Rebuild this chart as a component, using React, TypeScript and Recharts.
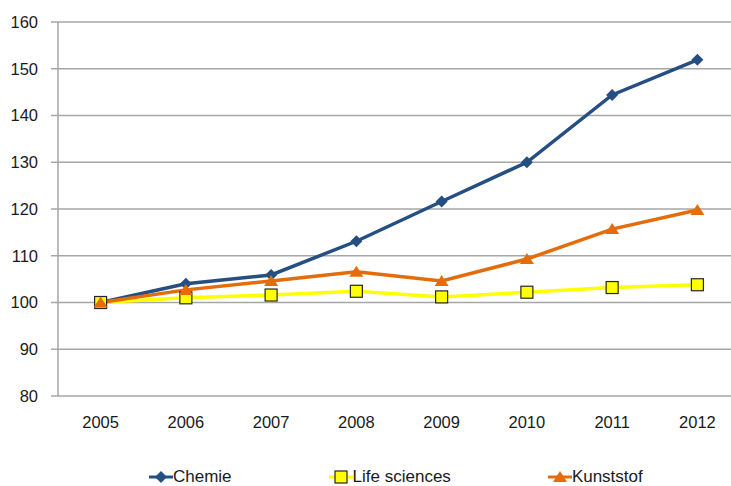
import { LineChart, Line, XAxis, YAxis, CartesianGrid, Legend } from "recharts";

const jaren = ["2005", "2006", "2007", "2008", "2009", "2010", "2011", "2012"];
const chemie = [100, 104, 105.9, 113.1, 121.6, 130, 144.4, 151.9];
const lifeSciences = [100, 101, 101.6, 102.4, 101.2, 102.2, 103.2, 103.8];
const kunststof = [100, 102.7, 104.6, 106.6, 104.6, 109.3, 115.7, 119.8];
const yTicks = [80, 90, 100, 110, 120, 130, 140, 150, 160];
const grensTicks = [0, 1, 2, 3, 4, 5, 6, 7, 8];

const data = jaren.map((jaar, i) => ({
  jaar,
  chemie: chemie[i],
  life: lifeSciences[i],
  kunststof: kunststof[i],
}));

const BLAUW = "#254E82";
const GEEL = "#FFFF00";
const ORANJE = "#E46C0A";
const GRIJS = "#A6A6A6";
const FONT = "'Liberation Sans', Arial, sans-serif";

const Ruit = ({ cx, cy }: any) => (
  <path d={`M${cx},${cy - 6}L${cx + 6},${cy}L${cx},${cy + 6}L${cx - 6},${cy}Z`} fill={BLAUW} />
);
const Vierkant = ({ cx, cy }: any) => (
  <rect x={cx - 6} y={cy - 6} width={12} height={12} fill={GEEL} stroke="#262626" strokeWidth={1.2} />
);
const Driehoek = ({ cx, cy }: any) => (
  <path d={`M${cx},${cy - 6}L${cx + 7},${cy + 5}L${cx - 7},${cy + 5}Z`} fill={ORANJE} />
);

const legendItems = [
  { naam: "Chemie", kleur: BLAUW, Marker: Ruit },
  { naam: "Life sciences", kleur: GEEL, Marker: Vierkant },
  { naam: "Kunststof", kleur: ORANJE, Marker: Driehoek },
];

function Legenda() {
  return (
    <div style={{ display: "flex", gap: 97, paddingLeft: 149, height: 22, alignItems: "center", lineHeight: "22px" }}>
      {legendItems.map(({ naam, kleur, Marker }) => (
        <div key={naam} style={{ display: "flex", alignItems: "center" }}>
          <svg width={24} height={16} style={{ display: "block" }}>
            <line x1={0} y1={8} x2={24} y2={8} stroke={kleur} strokeWidth={3} />
            <Marker cx={12} cy={8} />
          </svg>
          <span style={{ fontFamily: FONT, fontSize: 17, color: "#1a1a1a" }}>{naam}</span>
        </div>
      ))}
    </div>
  );
}

export default function App() {
  const tickStijl = { fill: "#1a1a1a", fontSize: 16.5, fontFamily: FONT };
  return (
    <div style={{ width: 731, height: 486, overflow: "hidden", background: "#fff" }}>
      <style>{"html,body{margin:0;overflow:hidden}"}</style>
      <LineChart width={741} height={486} data={data} margin={{ top: 22, right: 1, left: 0, bottom: 18 }}>
        <CartesianGrid vertical={false} stroke={GRIJS} strokeWidth={1.5} />
        {/* onzichtbare as: alleen de streepjes tussen de jaren */}
        <XAxis
          xAxisId="grens"
          type="number"
          domain={[0, 8]}
          ticks={grensTicks}
          tick={false}
          height={0}
          axisLine={{ stroke: GRIJS, strokeWidth: 1.5 }}
          tickLine={{ stroke: GRIJS, strokeWidth: 1.5 }}
          tickSize={7}
        />
        <XAxis
          dataKey="jaar"
          height={50}
          padding={{ left: 42.6, right: 42.6 }}
          axisLine={false}
          tickLine={false}
          tickSize={7}
          tickMargin={13}
          tick={tickStijl}
          interval={0}
        />
        <YAxis
          domain={[80, 160]}
          ticks={yTicks}
          width={58}
          axisLine={{ stroke: GRIJS, strokeWidth: 1.5 }}
          tickLine={{ stroke: GRIJS, strokeWidth: 1.5 }}
          tickSize={7}
          tickMargin={13}
          tick={tickStijl}
          interval={0}
        />
        <Legend
          verticalAlign="bottom"
          content={() => <Legenda />}
          wrapperStyle={{ top: 466, bottom: "auto", left: 0, width: 741, height: 22 }}
        />
        <Line dataKey="chemie" name="Chemie" stroke={BLAUW} strokeWidth={3.5} dot={<Ruit />} activeDot={false} isAnimationActive={false} />
        <Line dataKey="life" name="Life sciences" stroke={GEEL} strokeWidth={3.5} dot={<Vierkant />} activeDot={false} isAnimationActive={false} />
        <Line dataKey="kunststof" name="Kunststof" stroke={ORANJE} strokeWidth={3.5} dot={<Driehoek />} activeDot={false} isAnimationActive={false} />
      </LineChart>
    </div>
  );
}
